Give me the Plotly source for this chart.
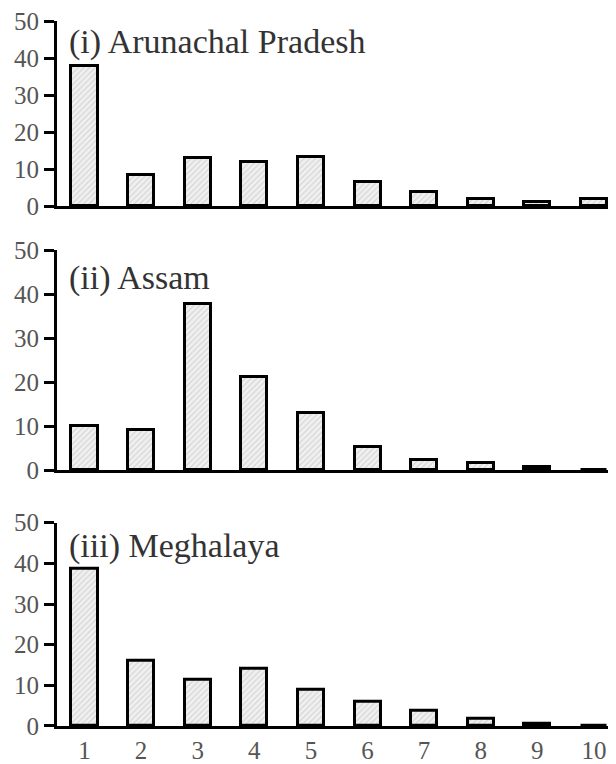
import plotly.graph_objects as go
from plotly.subplots import make_subplots

categories = [1, 2, 3, 4, 5, 6, 7, 8, 9, 10]
x_tick_labels = ["1", "2", "3", "4", "5", "6", "7", "8", "9", "10"]
arunachal = [38, 8.5, 13, 12, 13.3, 6.6, 4, 1.9, 1.3, 1.9]
assam = [10, 9, 37.8, 21.2, 13, 5.3, 2.4, 1.6, 0.7, 0]
meghalaya = [38.7, 16, 11.5, 14, 8.8, 5.9, 3.8, 1.8, 0.6, 0]
panel_titles = ["(i) Arunachal Pradesh", "(ii) Assam", "(iii) Meghalaya"]
y_ticks = [0, 10, 20, 30, 40, 50]

series = [arunachal, assam, meghalaya]

fig = make_subplots(rows=3, cols=1, shared_xaxes=False, vertical_spacing=0.05)

for i, vals in enumerate(series):
    fig.add_trace(go.Bar(
        x=categories, y=vals, width=0.46,
        marker=dict(color="#f2f2f2",
                    line=dict(color="black", width=3),
                    pattern=dict(shape="/", fgcolor="#b0b0b0", bgcolor="#f0f0f0",
                                 size=4, solidity=0.25)),
        showlegend=False,
    ), row=i + 1, col=1)

y_domains = [[0.737, 1.0], [0.3629, 0.6751], [0.0, 0.2883]]
title_y = [0.888, 0.874, 0.885]
serif = "Liberation Serif, Times New Roman, serif"

for i in range(3):
    xa = "xaxis" if i == 0 else f"xaxis{i+1}"
    ya = "yaxis" if i == 0 else f"yaxis{i+1}"
    fig.layout[ya].update(
        domain=y_domains[i], range=[0, 50], tickvals=y_ticks,
        showline=True, linewidth=3, linecolor="black",
        ticks="outside", ticklen=10, tickwidth=3, tickcolor="black",
        showgrid=False, zeroline=False, ticklabeloverflow="allow",
        tickfont=dict(family=serif, size=25, color="#555555"),
    )
    fig.layout[xa].update(
        range=[0.514, 10.39], tickvals=categories, ticktext=x_tick_labels,
        showline=True, linewidth=3, linecolor="black",
        ticks="", showgrid=False, zeroline=False, ticklabeloverflow="allow",
        showticklabels=(i == 2),
        tickfont=dict(family=serif, size=25, color="#555555"),
    )
    xref = "x domain" if i == 0 else f"x{i+1} domain"
    yref = "y domain" if i == 0 else f"y{i+1} domain"
    fig.add_annotation(
        text=panel_titles[i], xref=xref, yref=yref,
        x=0.018, y=title_y[i], xanchor="left", yanchor="middle",
        showarrow=False, font=dict(family=serif, size=34, color="#333333"),
    )

fig.update_layout(
    width=608, height=756,
    margin=dict(l=49, r=0, t=9, b=36),
    paper_bgcolor="white", plot_bgcolor="white",
    bargap=0,
)

fig.write_html("out.html")
